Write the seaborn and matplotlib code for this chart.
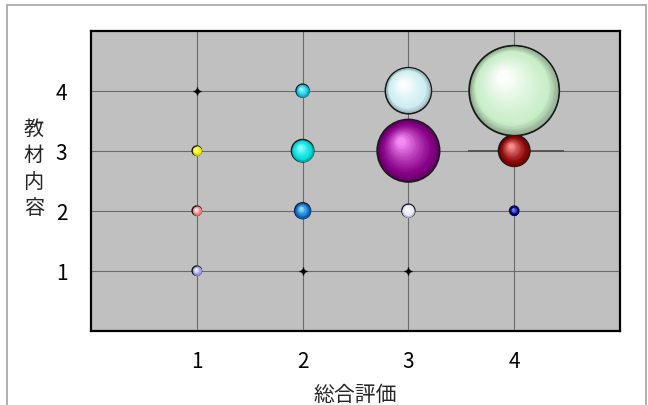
import matplotlib
matplotlib.use("Agg")
import matplotlib.pyplot as plt
import matplotlib.transforms as mtransforms
from matplotlib.colors import to_rgb
import seaborn as sns
import pandas as pd
import numpy as np

# bubble data: 総合評価 (x) vs 教材内容 (y), counts give the bubble area
overall = [1, 1, 1, 1, 2, 2, 2, 2, 3, 3, 3, 3, 4, 4, 4]
content = [1, 2, 3, 4, 1, 2, 3, 4, 1, 2, 3, 4, 2, 3, 4]
counts = [1, 1, 1, 0, 0, 3, 6, 2, 0, 2, 48, 26, 1, 12, 100]
colors = ["#9c9cf4", "#f48080", "#f0f000", "#000000",
          "#000000", "#0a6fd0", "#00dede", "#12c4e4",
          "#000000", "#e4e4fc", "#860086", "#cdeef2",
          "#000088", "#8c0606", "#c8eec8"]
tick_vals = [1, 2, 3, 4]

df = pd.DataFrame({"総合評価": overall, "教材内容": content,
                   "count": counts, "color": colors})
df["id"] = [f"{a}-{b}" for a, b in zip(overall, content)]

sns.set_theme(style="white")
plt.rcParams["font.family"] = ["Noto Sans CJK JP", "DejaVu Sans"]

fig = plt.figure(figsize=(6.48, 4.06), dpi=100)
ax = fig.add_axes([91 / 648, 1 - 331.7 / 406, 529 / 648, 300 / 406])
ax.set_facecolor("#c0c0c0")

# grid and the stray dark segment near the red bubble
ax.set_xticks(tick_vals)
ax.set_yticks(tick_vals)
ax.grid(True, color="#6a6a6a", lw=0.8, zorder=0)
ax.set_axisbelow(True)
ax.hlines(3, 3.56, 4.47, color="#505050", lw=1.3, zorder=1)

UNIT = 42.0  # pt^2 per count
big = df[df["count"] > 0]
zero = df[df["count"] == 0]

# base bubbles (dark rim) through seaborn
pal = {i: tuple(np.array(to_rgb(c)) * 0.7) for i, c in zip(big["id"], big["color"])}
sns.scatterplot(data=big, x="総合評価", y="教材内容", hue="id", palette=pal,
                s=big["count"].to_numpy() * UNIT, edgecolor="#1a1a1a",
                linewidth=1.3, legend=False, ax=ax, zorder=3)

# shading layers for a glossy look
N = 36
for _, row in big.iterrows():
    base = np.array(to_rgb(row["color"]))
    dark = base * 0.7
    hi = np.clip(base * 1.6 + 0.12, 0, 1)
    hi = hi * 0.5 + 0.5
    s0 = row["count"] * UNIT
    r_pt = np.sqrt(s0) / 2
    for i in range(1, N):
        t = i / N
        if t < 0.2:
            col = dark + (base - dark) * (t / 0.2)
        else:
            col = base + (hi - base) * ((t - 0.2) / 0.8) ** 1.2
        size = s0 * (1 - 0.9 * t) ** 2
        tr = mtransforms.offset_copy(ax.transData, fig=fig,
                                     x=-0.25 * r_pt * t, y=0.32 * r_pt * t,
                                     units="points")
        ax.scatter([row["総合評価"]], [row["教材内容"]], s=size, color=col,
                   linewidth=0, transform=tr, zorder=4)

# empty cells shown as tiny crosses
ax.scatter(zero["総合評価"], zero["教材内容"], marker="+", s=28, color="black",
           linewidth=1.0, zorder=3)
ax.scatter(zero["総合評価"], zero["教材内容"], s=6, color="black", zorder=3)

ax.set_xlim(0, 5)
ax.set_ylim(0, 5)
ax.tick_params(length=0, labelsize=15, pad=14, colors="black")
ax.tick_params(axis="y", pad=17)
for sp in ax.spines.values():
    sp.set_color("black")
    sp.set_linewidth(1.6)

ax.set_xlabel("総合評価", fontsize=15, labelpad=8)
ax.set_ylabel("")
fig.text(34 / 648, 1 - 169 / 406, "教\n材\n内\n容", ha="center", va="center",
         fontsize=14.5, linespacing=1.32)

# outer frame of the picture
frame = plt.Rectangle((7 / 648, -0.2), 639 / 648, 1.2 - 6 / 406,
                      transform=fig.transFigure, fill=False,
                      edgecolor="#aaaaaa", lw=1.3)
fig.add_artist(frame)

fig.savefig("out.png", dpi=100)
